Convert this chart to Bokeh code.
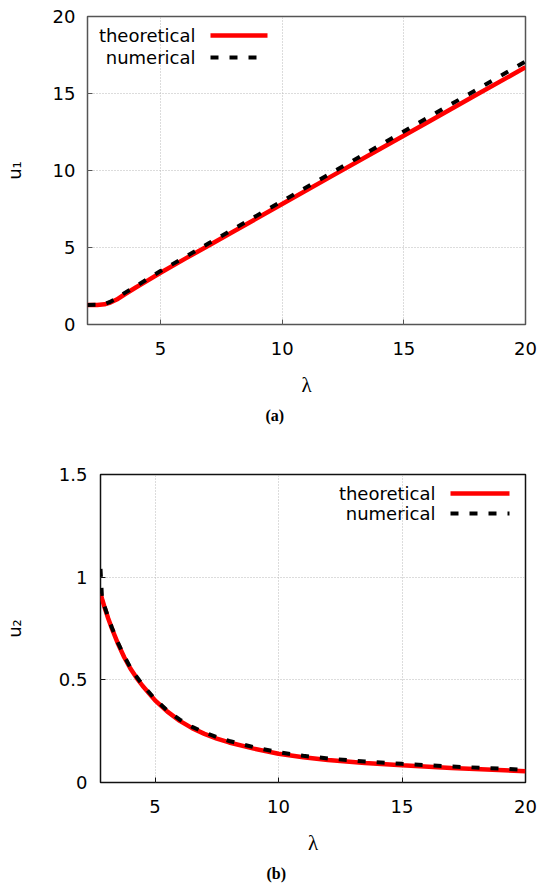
from bokeh.plotting import figure
from bokeh.models import Label, Arrow, Title, FixedTicker, Range1d
from bokeh.embed import file_html
from bokeh.resources import INLINE

# ---------------- data ----------------
lam1 = [2.0, 2.4, 2.7, 2.9, 3.2, 3.55, 4.0, 4.5, 5.0, 6.0, 7.0, 8.0,
        10.0, 12.0, 14.0, 16.0, 18.0, 20.0]
u1_theoretical = [1.27, 1.27, 1.31, 1.40, 1.62, 1.98, 2.42, 2.88, 3.36, 4.26,
                  5.15, 6.04, 7.82, 9.60, 11.38, 13.15, 14.93, 16.70]
u1_numerical = [1.27, 1.28, 1.33, 1.45, 1.70, 2.07, 2.50, 2.98, 3.47, 4.38,
                5.29, 6.20, 8.01, 9.82, 11.63, 13.45, 15.26, 17.08]

lam2 = [2.79, 2.85, 2.95, 3.1, 3.25, 3.5, 3.75, 4.0, 4.25, 4.5, 5.0, 5.5, 6.0,
        6.5, 7.0, 7.5, 8.0, 9.0, 10.0, 11.0, 12.0, 13.5, 15.0, 17.0, 20.0]
u2_theoretical = [0.92, 0.895, 0.855, 0.80, 0.75, 0.675, 0.61, 0.555, 0.51, 0.47,
                  0.40, 0.345, 0.30, 0.265, 0.237, 0.214, 0.195, 0.165, 0.140,
                  0.123, 0.110, 0.095, 0.084, 0.071, 0.055]
u2_numerical = [1.04, 0.90, 0.86, 0.805, 0.755, 0.68, 0.615, 0.56, 0.515, 0.475,
                0.405, 0.35, 0.306, 0.271, 0.244, 0.221, 0.202, 0.172, 0.147,
                0.130, 0.117, 0.102, 0.091, 0.078, 0.062]

x_ticks = [5, 10, 15, 20]
y1_ticks = [0, 5, 10, 15, 20]
y2_ticks = [0, 0.5, 1, 1.5]
y2_tick_labels = ["0", "0.5", "1", "1.5"]
legend_labels = ["theoretical", "numerical"]
captions = ["(a)", "(b)"]
y_labels = ["u\u2081", "u\u2082"]
x_label = "\u03bb"

SANS = "DejaVu Sans"
SERIF = "Liberation Serif"
RED = "#ff0000"
BLACK = "#000000"
DASH = "8 11"


def make_panel(lam, theo, numer, xr, yr, yticks, ylabels, ylab, caption,
               frame_w, frame_h, left, top, bottom, border_color,
               ytick_standoff, ylab_standoff, caption_offset,
               legend_text_x, legend_line_x0, legend_line_x1, legend_rows):
    p = figure(frame_width=frame_w, frame_height=frame_h,
               x_range=Range1d(*xr), y_range=Range1d(*yr),
               output_backend="svg", toolbar_location=None,
               min_border_left=left, min_border_right=14,
               min_border_top=top, min_border_bottom=bottom)
    p.background_fill_color = "white"
    p.border_fill_color = "white"
    p.outline_line_color = border_color
    p.outline_line_width = 1.5

    for ax in (p.xaxis[0], p.yaxis[0]):
        ax.major_tick_in = 5
        ax.major_tick_out = 0
        ax.minor_tick_in = 0
        ax.minor_tick_out = 0
        ax.axis_line_color = None
        ax.major_tick_line_color = border_color
        ax.major_label_text_font = SANS
        ax.major_label_text_font_size = "18px"
        ax.major_label_text_color = "black"
        ax.axis_label_text_color = "black"
        ax.axis_label_text_font_style = "normal"

    p.xaxis[0].ticker = FixedTicker(ticks=x_ticks)
    p.yaxis[0].ticker = FixedTicker(ticks=yticks)
    if ylabels is not None:
        p.yaxis[0].major_label_overrides = {t: s for t, s in zip(yticks, ylabels)}
    p.xaxis[0].major_label_standoff = 17
    p.yaxis[0].major_label_standoff = ytick_standoff

    p.xaxis[0].axis_label = x_label
    p.xaxis[0].axis_label_text_font = SERIF
    p.xaxis[0].axis_label_text_font_size = "21px"
    p.xaxis[0].axis_label_standoff = 15

    p.yaxis[0].axis_label = ylab
    p.yaxis[0].axis_label_text_font = SANS
    p.yaxis[0].axis_label_text_font_size = "18px"
    p.yaxis[0].axis_label_standoff = ylab_standoff

    p.xgrid.ticker = FixedTicker(ticks=x_ticks)
    p.ygrid.ticker = FixedTicker(ticks=yticks)
    for g in (p.xgrid[0], p.ygrid[0]):
        g.grid_line_color = "#b8b8b8"
        g.grid_line_dash = "1 2"
        g.grid_line_width = 1

    p.line(lam, theo, line_color=RED, line_width=4.5)
    p.line(lam, numer, line_color=BLACK, line_width=4, line_dash=DASH)

    # gnuplot-style key: label first, sample on the right
    styles = [dict(line_color=RED, line_width=4.5),
              dict(line_color=BLACK, line_width=4, line_dash=DASH)]
    for lbl, yrow, st in zip(legend_labels, legend_rows, styles):
        p.add_layout(Label(x=legend_text_x, y=yrow, x_units="screen", y_units="screen",
                           text=lbl, text_align="right", text_baseline="middle",
                           text_font=SANS, text_font_size="18px", text_color="black"))
        p.add_layout(Arrow(end=None, start=None,
                           x_start=legend_line_x0, y_start=yrow,
                           x_end=legend_line_x1, y_end=yrow,
                           start_units="screen", end_units="screen", **st))

    p.add_layout(Title(text=caption, align="left", offset=caption_offset,
                       text_font=SERIF, text_font_size="16px", text_font_style="bold",
                       text_color="black", standoff=11), "below")
    return p


p1 = make_panel(lam1, u1_theoretical, u1_numerical, (2, 20), (0, 20), y1_ticks, None,
                y_labels[0], captions[0], 438, 308, 81, 16, 112, "#555555",
                12, 25, 178, 108, 123, 180, (289, 267))
p2 = make_panel(lam2, u2_theoretical, u2_numerical, (2.79, 20), (0, 1.5), y2_ticks,
                y2_tick_labels, y_labels[1], captions[1], 425, 308, 94, 38, 101,
                "#111111", 13, 31, 166, 335, 350, 409, (289, 269))

open("out.html", "w").write(file_html([p1, p2], INLINE))
